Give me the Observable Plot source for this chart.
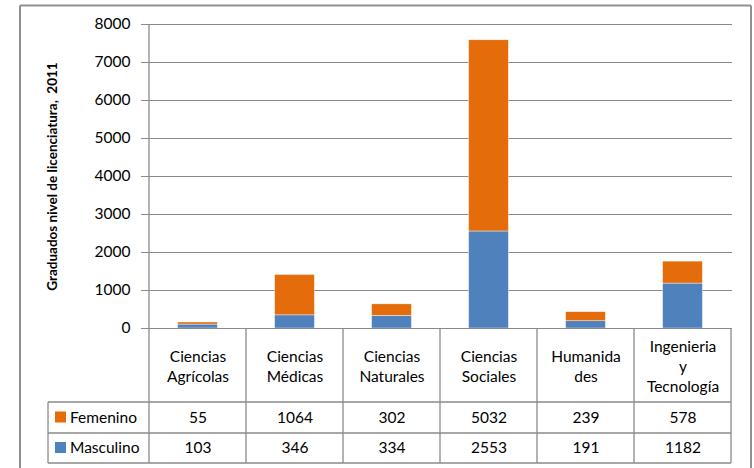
<!DOCTYPE html>
<html>
<head>
<meta charset="utf-8">
<script src="https://cdn.jsdelivr.net/npm/d3@7"></script>
<script src="https://cdn.jsdelivr.net/npm/@observablehq/plot@0.6"></script>
<style>
  html, body { margin: 0; padding: 0; background: #fff; }
  #chart svg { display: block; }
</style>
</head>
<body>
<div id="chart"></div>
<script>
const categories = ["Ciencias Agrícolas", "Ciencias Médicas", "Ciencias Naturales", "Ciencias Sociales", "Humanidades", "Ingenieria y Tecnología"];
const headerLabels = ["Ciencias\nAgrícolas", "Ciencias\nMédicas", "Ciencias\nNaturales", "Ciencias\nSociales", "Humanida\ndes", "Ingenieria\ny\nTecnología"];
const femenino = [55, 1064, 302, 5032, 239, 578];
const masculino = [103, 346, 334, 2553, 191, 1182];
const seriesNames = ["Femenino", "Masculino"];
const seriesColors = ["#E46C0A", "#4F81BD"];
const yTicks = [0, 1000, 2000, 3000, 4000, 5000, 6000, 7000, 8000];
const yLabel = "Graduados nivel de licenciatura,  2011";

const data = [];
categories.forEach((c, i) => data.push({cat: c, serie: "Masculino", value: masculino[i]}));
categories.forEach((c, i) => data.push({cat: c, serie: "Femenino", value: femenino[i]}));

const W = 754, H = 468;
const font = "Lato, 'Open Sans', sans-serif";
const fs = 15.5;
const gray = "#8a8a8a";
const frameGray = "#8f8f8f";

const chart = Plot.plot({
  width: W,
  height: H,
  marginLeft: 148,
  marginRight: 22,
  marginTop: 24,
  marginBottom: 140,
  style: {fontFamily: font, fontSize: fs + "px", color: "#000", overflow: "visible"},
  x: {domain: categories, padding: 0, axis: null},
  y: {domain: [0, 8000], axis: null},
  color: {domain: seriesNames, range: seriesColors},
  marks: [
    Plot.gridY(yTicks, {stroke: gray, strokeOpacity: 1, strokeWidth: 1}),
    Plot.axisY(yTicks, {tickSize: 7, tickPadding: 11, stroke: gray, label: null, tickFormat: d => String(d), fontSize: fs, fill: "#000"}),
    Plot.barY(data, {x: "cat", y: "value", fill: "serie", insetLeft: 28.6, insetRight: 28.6, stroke: "#fff", strokeWidth: 0.6, strokeOpacity: 0.7}),
    Plot.ruleY([0], {stroke: gray, strokeWidth: 1.2}),
    Plot.text([yLabel], {frameAnchor: "left", dx: -96, rotate: -90, textAnchor: "middle", fontWeight: "bold", fontSize: 13.5, fill: "#000"}),
    Plot.text(categories, {x: d => d, text: (d, i) => headerLabels[i], frameAnchor: "bottom", dy: 37, lineAnchor: "middle", lineHeight: 1.28, fontSize: fs, fill: "#000"}),
    Plot.text(categories, {x: d => d, text: (d, i) => String(femenino[i]), frameAnchor: "bottom", dy: 90, lineAnchor: "middle", fontSize: fs, fill: "#000"}),
    Plot.text(categories, {x: d => d, text: (d, i) => String(masculino[i]), frameAnchor: "bottom", dy: 120, lineAnchor: "middle", fontSize: fs, fill: "#000"})
  ]
});

document.getElementById("chart").appendChild(chart);

const svg = d3.select(chart);

// Data-table grid, legend keys and chart-area border drawn using the Plot scales
const xs = chart.scale("x");
const ys = chart.scale("y");
const g = svg.append("g").attr("stroke", gray).attr("stroke-width", 1.3).attr("fill", "none");
const top0 = ys.apply(0);
const rowA = top0 + 74, rowB = rowA + 31, rowC = rowB + 30;
const left = xs.apply(categories[0]);
const right = xs.apply(categories[categories.length - 1]) + xs.bandwidth;
const legLeft = 48;

g.append("line").attr("x1", left).attr("x2", left).attr("y1", ys.apply(8000)).attr("y2", rowC);
categories.forEach(c => {
  const x = xs.apply(c) + xs.bandwidth;
  g.append("line").attr("x1", x).attr("x2", x).attr("y1", top0).attr("y2", rowC);
});
[rowA, rowB, rowC].forEach(y => {
  g.append("line").attr("x1", legLeft).attr("x2", right).attr("y1", y).attr("y2", y);
});
g.append("line").attr("x1", legLeft).attr("x2", legLeft).attr("y1", rowA).attr("y2", rowC);

// outer chart-area border, same drawing path as the table lines
const fx0 = legLeft - 28, fx1 = right + 20, fy0 = ys.apply(8000) - 18.5;
g.append("line").attr("x1", fx0).attr("x2", fx0).attr("y1", fy0).attr("y2", H).attr("stroke", frameGray).attr("stroke-width", 2);
g.append("line").attr("x1", fx1).attr("x2", fx1).attr("y1", fy0).attr("y2", H).attr("stroke", frameGray).attr("stroke-width", 2);
g.append("line").attr("x1", fx0).attr("x2", fx1).attr("y1", fy0).attr("y2", fy0).attr("stroke", frameGray).attr("stroke-width", 2);

const legend = svg.append("g").attr("font-family", font).attr("font-size", fs + "px").attr("text-anchor", "start");
seriesNames.forEach((s, i) => {
  const yMid = i === 0 ? (rowA + rowB) / 2 : (rowB + rowC) / 2;
  legend.append("rect").attr("x", legLeft + 7).attr("y", yMid - 6).attr("width", 11).attr("height", 11).attr("fill", seriesColors[i]);
  legend.append("text").attr("x", legLeft + 22).attr("y", yMid).attr("dy", "0.35em").attr("fill", "#000").attr("text-anchor", "start").text(s);
});
</script>
</body>
</html>
